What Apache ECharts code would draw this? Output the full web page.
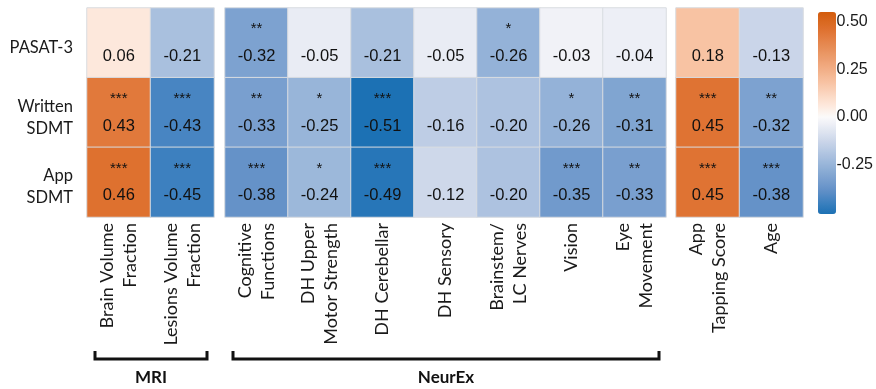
<!DOCTYPE html>
<html>
<head>
<meta charset="utf-8">
<script src="https://cdn.jsdelivr.net/npm/echarts@6/dist/echarts.min.js"></script>
<style>
  html, body { margin: 0; padding: 0; background: #ffffff; }
  #chart { width: 876px; height: 389px; }
</style>
</head>
<body>
<div id="chart"></div>
<script>
// Outcome measures (rows)
const rows = ['PASAT-3', 'Written\nSDMT', 'App\nSDMT'];

// Predictor groups (columns)
const mriCols = ['Brain Volume\nFraction', 'Lesions Volume\nFraction'];
const neurexCols = ['Cognitive\nFunctions', 'DH Upper\nMotor Strength', 'DH Cerebellar',
  'DH Sensory', 'Brainstem/\nLC Nerves', 'Vision', 'Eye\nMovement'];
const otherCols = ['App\nTapping Score', 'Age'];

// Correlation coefficients, one inner array per row
const mriValues = [
  [0.06, -0.21],
  [0.43, -0.43],
  [0.46, -0.45]
];
const neurexValues = [
  [-0.32, -0.05, -0.21, -0.05, -0.26, -0.03, -0.04],
  [-0.33, -0.25, -0.51, -0.16, -0.20, -0.26, -0.31],
  [-0.38, -0.24, -0.49, -0.12, -0.20, -0.35, -0.33]
];
const otherValues = [
  [0.18, -0.13],
  [0.45, -0.32],
  [0.45, -0.38]
];

// Significance markers
const mriStars = [
  ['', ''],
  ['***', '***'],
  ['***', '***']
];
const neurexStars = [
  ['**', '', '', '', '*', '', ''],
  ['**', '*', '***', '', '', '*', '**'],
  ['***', '*', '***', '', '', '***', '**']
];
const otherStars = [
  ['', ''],
  ['***', '**'],
  ['***', '***']
];

// Colour bar
const scaleMin = -0.51;
const scaleMax = 0.55;
const colorbarTicks = [-0.25, 0, 0.25, 0.5];

// Diverging palette anchors (value -> colour)
const paletteAnchors = [
  [-0.55, '#0667ad'], [-0.45, '#3d80bf'], [-0.38, '#6592c8'], [-0.25, '#98b5d9'],
  [-0.13, '#cad5e9'], [-0.03, '#f1f2f7'], [0, '#fbfafa'], [0.06, '#fde8dc'],
  [0.18, '#f8c3a3'], [0.45, '#df7333'], [0.55, '#d35c0c']
];
function hexToRgb(h) { return [1, 3, 5].map(i => parseInt(h.substr(i, 2), 16)); }
function paletteAt(v) {
  for (let i = 0; i < paletteAnchors.length - 1; i++) {
    const [v0, c0] = paletteAnchors[i], [v1, c1] = paletteAnchors[i + 1];
    if (v <= v1 || i === paletteAnchors.length - 2) {
      const t = Math.max(0, Math.min(1, (v - v0) / (v1 - v0)));
      const a = hexToRgb(c0), b = hexToRgb(c1);
      const c = a.map((x, k) => Math.round(x + (b[k] - x) * t));
      return 'rgb(' + c.join(',') + ')';
    }
  }
}
const rampColors = [];
for (let i = 0; i <= 106; i++) rampColors.push(paletteAt(scaleMin + (scaleMax - scaleMin) * i / 106));

const groups = [
  { cols: mriCols, values: mriValues, stars: mriStars, left: 87, width: 127 },
  { cols: neurexCols, values: neurexValues, stars: neurexStars, left: 225, width: 441 },
  { cols: otherCols, values: otherValues, stars: otherStars, left: 676, width: 127 }
];
const gridTop = 8, gridHeight = 209;
const labelFont = 'Lato, "Open Sans", sans-serif';
const numFont = '"Liberation Sans", Arial, sans-serif';

const grids = [], xAxes = [], yAxes = [], series = [];
groups.forEach((g, gi) => {
  grids.push({ left: g.left, top: gridTop, width: g.width, height: gridHeight });
  xAxes.push({
    type: 'category', gridIndex: gi, data: g.cols, position: 'bottom',
    axisLine: { show: false }, axisTick: { show: false }, splitLine: { show: false },
    axisLabel: {
      rotate: 90, interval: 0, margin: 6, fontSize: 18, lineHeight: 23,
      fontFamily: labelFont, color: '#1a1a1a'
    }
  });
  yAxes.push({
    type: 'category', gridIndex: gi, data: rows, inverse: true,
    axisLine: { show: false }, axisTick: { show: false }, splitLine: { show: false },
    axisLabel: gi === 0 ? {
      margin: 14, align: 'right',
      // a short blank line above nudges the row names slightly downward
      formatter: t => '{pad| }\n{t|' + t + '}',
      rich: {
        pad: { fontSize: 4, lineHeight: 10 },
        t: { fontSize: 16.5, lineHeight: 22, fontFamily: labelFont, color: '#1a1a1a', align: 'right' }
      }
    } : { show: false }
  });
  const data = [];
  g.values.forEach((row, r) => row.forEach((v, c) => data.push([c, r, v])));
  series.push({
    type: 'heatmap', xAxisIndex: gi, yAxisIndex: gi, data: data,
    itemStyle: { borderColor: '#d9dce1', borderWidth: 1 },
    emphasis: { disabled: true },
    label: {
      show: true,
      formatter: p => {
        const s = g.stars[p.data[1]][p.data[0]];
        return '{s|' + (s || ' ') + '}\n{v|' + p.data[2].toFixed(2) + '}';
      },
      rich: {
        s: { fontSize: 15, lineHeight: 27, fontFamily: numFont, color: '#111' },
        v: { fontSize: 16.5, lineHeight: 27, fontFamily: numFont, color: '#111' }
      }
    }
  });
});

// Colour bar axis
grids.push({ left: 818, top: 12, width: 18, height: 202 });
xAxes.push({ type: 'value', gridIndex: 3, show: false });
yAxes.push({
  type: 'value', gridIndex: 3, min: scaleMin, max: scaleMax, position: 'right', z: 10,
  axisLine: { show: false }, splitLine: { show: false },
  axisTick: { show: true, inside: true, length: 4, customValues: colorbarTicks,
    lineStyle: { color: '#ffffff', width: 1 } },
  axisLabel: { customValues: colorbarTicks, margin: 3, fontSize: 16, fontFamily: numFont,
    color: '#1a1a1a', formatter: v => v.toFixed(2) }
});

// Group brackets below the column labels
const bracketTop = 351, bracketBottom = 359;
function bracket(g, name) {
  const x1 = g.left + 8, x2 = g.left + g.width - 7;
  return [
    { type: 'polyline', shape: { points: [[x1, bracketTop], [x1, bracketBottom], [x2, bracketBottom], [x2, bracketTop]] },
      style: { stroke: '#111', lineWidth: 3, fill: null } },
    { type: 'text', x: (x1 + x2) / 2, y: 378,
      style: { text: name, font: 'bold 17px ' + labelFont, fill: '#111', align: 'center', verticalAlign: 'middle' } }
  ];
}

const chart = echarts.init(document.getElementById('chart'));
chart.setOption({
  animation: false,
  grid: grids,
  xAxis: xAxes,
  yAxis: yAxes,
  visualMap: {
    type: 'continuous', min: scaleMin, max: scaleMax, seriesIndex: [0, 1, 2],
    left: 818, top: 12, itemWidth: 18, itemHeight: 202, padding: 0,
    calculable: false, text: null, showLabel: false,
    inRange: { color: rampColors }
  },
  graphic: [].concat(bracket(groups[0], 'MRI'), bracket(groups[1], 'NeurEx')),
  series: series
});
</script>
</body>
</html>
